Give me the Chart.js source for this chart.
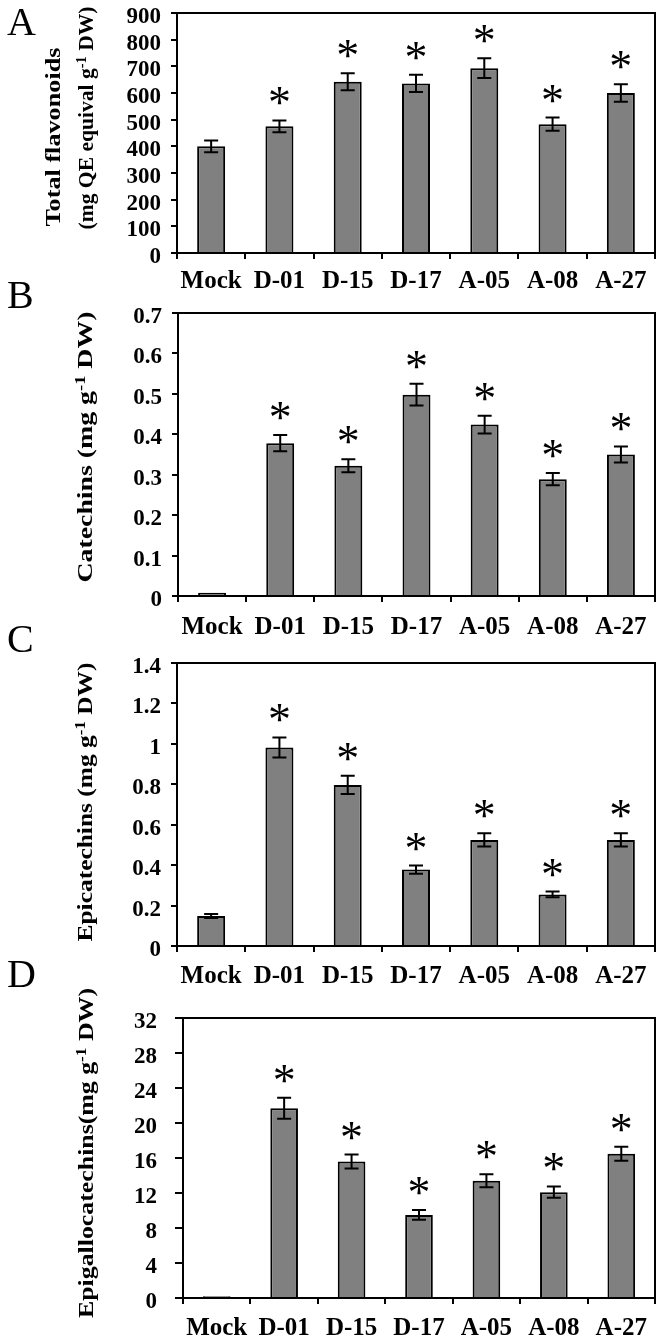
<!DOCTYPE html>
<html>
<head>
<meta charset="utf-8">
<script src="https://cdn.jsdelivr.net/npm/chart.js@4.4.0/dist/chart.umd.min.js"></script>
<style>
  body { margin: 0; background: #fff; }
  #wrap { position: relative; width: 661px; height: 1343px; overflow: hidden; }
  canvas { position: absolute; left: 0; }
</style>
</head>
<body>
<div id="wrap">
  <canvas id="chartA" width="661" height="320" style="top:-20px"></canvas>
  <canvas id="chartB" width="661" height="360" style="top:280px"></canvas>
  <canvas id="chartC" width="661" height="380" style="top:620px"></canvas>
  <canvas id="chartD" width="661" height="388" style="top:955px"></canvas>
</div>
<script>
// lines (x categories)
const lines = ["Mock", "D-01", "D-15", "D-17", "A-05", "A-08", "A-27"];

// A - total flavonoids
const flavonoids = [400, 475, 642, 636, 693, 483, 600];
const flavonoidsErr = [22, 22, 32, 32, 37, 25, 33];
const flavonoidsTicks = [0, 100, 200, 300, 400, 500, 600, 700, 800, 900];

// B - catechins
const catechins = [0.008, 0.378, 0.322, 0.498, 0.424, 0.289, 0.35];
const catechinsErr = [0, 0.02, 0.016, 0.027, 0.022, 0.015, 0.02];
const catechinsTicks = [0, 0.1, 0.2, 0.3, 0.4, 0.5, 0.6, 0.7];

// C - epicatechins
const epicatechins = [0.148, 0.982, 0.797, 0.378, 0.525, 0.255, 0.525];
const epicatechinsErr = [0.01, 0.05, 0.045, 0.02, 0.033, 0.014, 0.033];
const epicatechinsTicks = [0, 0.2, 0.4, 0.6, 0.8, 1, 1.2, 1.4];

// D - epigallocatechins
const epigallo = [0.2, 21.7, 15.6, 9.5, 13.4, 12.1, 16.5];
const epigalloErr = [0, 1.2, 0.8, 0.55, 0.75, 0.65, 0.8];
const epigalloTicks = [0, 4, 8, 12, 16, 20, 24, 28, 32];

// significance marks (*), same for all panels
const significant = [false, true, true, true, true, true, true];

const SERIF = '"Liberation Serif", "Times New Roman", serif';

// geometry is in each canvas' own pixels
const panels = [
  { id: "chartA", values: flavonoids, errs: flavonoidsErr, ticks: flavonoidsTicks,
    h: 320, top: 33, bottom: 273, left: 177, tickLen: 6, tickPad: 10, xPad: 8,
    letter: "A", letterY: 55,
    titles: [
      { segs: [{ t: "Total flavonoids" }], cx: 55, cy: 157, span: 179 },
      { segs: [{ t: "(mg QE equival g" }, { t: "-1", sup: true }, { t: " DW)" }], cx: 88, cy: 138, span: 223 }
    ] },
  { id: "chartB", values: catechins, errs: catechinsErr, ticks: catechinsTicks,
    h: 360, top: 33, bottom: 316, left: 178, tickLen: 6, tickPad: 10, xPad: 11,
    letter: "B", letterY: 28,
    titles: [
      { segs: [{ t: "Catechins (mg g" }, { t: "-1", sup: true }, { t: " DW)" }], cx: 87, cy: 167, span: 271 }
    ] },
  { id: "chartC", values: epicatechins, errs: epicatechinsErr, ticks: epicatechinsTicks,
    h: 380, top: 43, bottom: 326, left: 177, tickLen: 6, tickPad: 10, xPad: 10,
    letter: "C", letterY: 32,
    titles: [
      { segs: [{ t: "Epicatechins (mg g" }, { t: "-1", sup: true }, { t: " DW)" }], cx: 87, cy: 182, span: 279 }
    ] },
  { id: "chartD", values: epigallo, errs: epigalloErr, ticks: epigalloTicks,
    h: 388, top: 63, bottom: 343, left: 183, tickLen: 8, tickPad: 18, xPad: 10,
    letter: "D", letterY: 32,
    titles: [
      { segs: [{ t: "Epigallocatechins(mg g" }, { t: "-1", sup: true }, { t: " DW)" }], cx: 88, cy: 198, span: 330 }
    ] }
];

function drawTitle(ctx, title) {
  ctx.save();
  ctx.translate(title.cx, title.cy);
  ctx.rotate(-Math.PI / 2);
  ctx.fillStyle = "#000";
  ctx.textAlign = "left";
  ctx.textBaseline = "middle";
  let total = 0;
  title.segs.forEach((s) => {
    ctx.font = s.sup ? `bold 14px ${SERIF}` : `bold 21px ${SERIF}`;
    s.w = ctx.measureText(s.t).width;
    total += s.w;
  });
  ctx.scale(title.span / total, 1);
  let x = -total / 2;
  title.segs.forEach((s) => {
    ctx.font = s.sup ? `bold 14px ${SERIF}` : `bold 21px ${SERIF}`;
    ctx.fillText(s.t, x, s.sup ? -6 : 0);
    x += s.w;
  });
  ctx.restore();
}

function drawStar(ctx, x, cy) {
  ctx.save();
  ctx.font = `100px ${SERIF}`;
  let m = ctx.measureText("*");
  const size = 100 * 17 / (m.actualBoundingBoxAscent + m.actualBoundingBoxDescent);
  ctx.font = `${size}px ${SERIF}`;
  m = ctx.measureText("*");
  ctx.fillStyle = "#000";
  ctx.textAlign = "center";
  ctx.textBaseline = "alphabetic";
  ctx.fillText("*", x, cy + (m.actualBoundingBoxAscent - m.actualBoundingBoxDescent) / 2);
  ctx.restore();
}

// error bars, stars, plot frame, letter and y title
const extras = {
  id: "extras",
  afterDatasetsDraw(chart, args, opts) {
    const p = opts.panel;
    const ctx = chart.ctx;
    const y = chart.scales.y;
    const area = chart.chartArea;
    const bars = chart.getDatasetMeta(0).data;

    ctx.save();
    ctx.strokeStyle = "#000";
    ctx.lineWidth = 2;
    // top + right frame
    ctx.beginPath();
    ctx.moveTo(area.left, area.top);
    ctx.lineTo(area.right, area.top);
    ctx.lineTo(area.right, area.bottom);
    ctx.stroke();

    bars.forEach((bar, i) => {
      const v = p.values[i], e = p.errs[i];
      if (e > 0) {
        const yt = y.getPixelForValue(v + e);
        const yb = y.getPixelForValue(v - e);
        ctx.beginPath();
        ctx.moveTo(bar.x, yt); ctx.lineTo(bar.x, yb);
        ctx.moveTo(bar.x - 7, yt); ctx.lineTo(bar.x + 7, yt);
        ctx.moveTo(bar.x - 7, yb); ctx.lineTo(bar.x + 7, yb);
        ctx.stroke();
      }
      if (significant[i]) {
        drawStar(ctx, bar.x, y.getPixelForValue(v + e) - 24);
      }
    });
    ctx.restore();

    // panel letter
    ctx.save();
    ctx.fillStyle = "#000";
    ctx.font = `40px ${SERIF}`;
    ctx.textAlign = "left";
    ctx.textBaseline = "alphabetic";
    ctx.fillText(p.letter, 7, p.letterY);
    ctx.restore();

    p.titles.forEach((t) => drawTitle(ctx, t));
  }
};

panels.forEach((p) => {
  const ctx = document.getElementById(p.id).getContext("2d");
  new Chart(ctx, {
    type: "bar",
    data: {
      labels: lines,
      datasets: [{
        data: p.values,
        backgroundColor: "#808080",
        borderColor: "#000",
        borderWidth: 2,
        barPercentage: 0.41,
        categoryPercentage: 1
      }]
    },
    options: {
      responsive: false,
      animation: false,
      devicePixelRatio: 1,
      layout: { padding: { top: p.top, right: 6, left: 0, bottom: 0 } },
      plugins: {
        legend: { display: false },
        tooltip: { enabled: false },
        extras: { panel: p }
      },
      scales: {
        x: {
          grid: { offset: true, drawOnChartArea: false, tickLength: 6, color: "#000", lineWidth: 2 },
          border: { color: "#000", width: 2 },
          ticks: { color: "#000", font: { family: SERIF, size: 25, weight: "bold" }, padding: p.xPad, maxRotation: 0, autoSkip: false },
          afterFit: (s) => { s.height = p.h - p.bottom; }
        },
        y: {
          min: 0,
          max: p.ticks[p.ticks.length - 1],
          afterBuildTicks: (s) => { s.ticks = p.ticks.map((v) => ({ value: v })); },
          grid: { drawOnChartArea: false, tickLength: p.tickLen, color: "#000", lineWidth: 2 },
          border: { color: "#000", width: 2 },
          ticks: { color: "#000", font: { family: SERIF, size: 23, weight: "bold" }, padding: p.tickPad, labelOffset: 4, autoSkip: false, callback: (v) => String(v) },
          afterFit: (s) => { s.width = p.left; }
        }
      }
    },
    plugins: [extras]
  });
});
</script>
</body>
</html>
